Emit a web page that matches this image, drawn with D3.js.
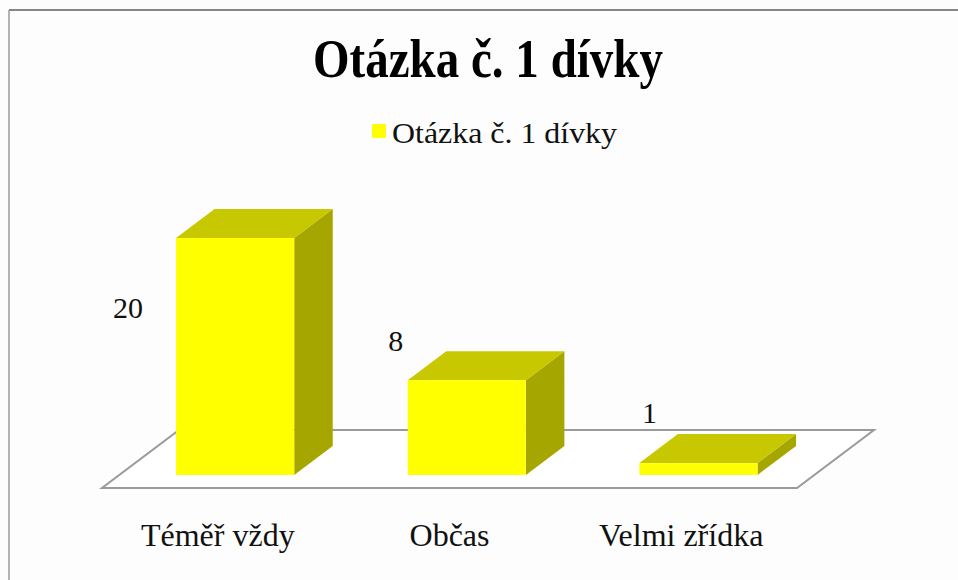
<!DOCTYPE html>
<html>
<head>
<meta charset="utf-8">
<script src="https://cdn.jsdelivr.net/npm/d3@7"></script>
<style>
  html, body { margin: 0; padding: 0; background: #fdfdfd; }
  svg { display: block; font-family: "Liberation Serif", "Times New Roman", serif; }
</style>
</head>
<body>
<div id="chart-wrap"></div>
<script>
const categories = ['Téměř vždy', 'Občas', 'Velmi zřídka'];
const values = [20, 8, 1];
const seriesName = 'Otázka č. 1 dívky';
const chartTitle = 'Otázka č. 1 dívky';

const width = 958;
const height = 580;

// 3D look: floor depth vector and where the bars sit inside it
const floorDepth = [77, -58];
const barFront = 0.225;
const barBack = 0.725;
const floorY = 488;

// value label nudges (px) from bar front top-left
const labelNudge = [[-48, 80], [-12, -29], [10, -40]];

const colors = { front: '#ffff00', top: '#c8c800', side: '#a6a600', floor: '#9a9a9a' };

const svg = d3.select('#chart-wrap').append('svg')
  .attr('width', width)
  .attr('height', height);

// frame (only top + left visible)
svg.append('line')
  .attr('x1', 9).attr('x2', width).attr('y1', 10).attr('y2', 10)
  .attr('stroke', '#858585').attr('stroke-width', 2);
svg.append('line')
  .attr('x1', 9).attr('x2', 9).attr('y1', 10).attr('y2', height)
  .attr('stroke', '#9a9a9a').attr('stroke-width', 1.5);

// title
svg.append('text')
  .attr('x', 488).attr('y', 77)
  .attr('text-anchor', 'middle')
  .attr('font-size', 54)
  .attr('font-weight', 'bold')
  .attr('textLength', 350)
  .attr('lengthAdjust', 'spacingAndGlyphs')
  .text(chartTitle);

// legend
const legend = svg.append('g');
legend.append('rect')
  .attr('x', 372).attr('y', 124).attr('width', 14).attr('height', 14)
  .attr('fill', colors.front);
legend.append('text')
  .attr('x', 392).attr('y', 143)
  .attr('font-size', 30)
  .attr('textLength', 225)
  .attr('lengthAdjust', 'spacingAndGlyphs')
  .attr('fill', '#111')
  .text(seriesName);

// scales
const x = d3.scaleBand()
  .domain(categories)
  .range([102, 797])
  .paddingInner(0.49)
  .paddingOuter(0.245);

const y = d3.scaleLinear()
  .domain([0, 20])
  .range([0, 237]);

const depth = (t) => [floorDepth[0] * t, floorDepth[1] * t];

// floor
const [fx0, fx1] = x.range();
const back = depth(1);
svg.append('path')
  .attr('d', d3.line()([
    [fx0, floorY], [fx1, floorY],
    [fx1 + back[0], floorY + back[1]], [fx0 + back[0], floorY + back[1]]
  ]) + 'Z')
  .attr('fill', '#ffffff')
  .attr('stroke', colors.floor)
  .attr('stroke-width', 2);

// bars
const data = categories.map((c, i) => ({ cat: c, value: values[i], i }));
const f = depth(barFront);
const b = depth(barBack);
const dd = [b[0] - f[0], b[1] - f[1]];

const bars = svg.selectAll('.bar')
  .data(data)
  .enter()
  .append('g')
  .attr('class', 'bar');

const geom = (d) => {
  const x0 = x(d.cat) + f[0];
  const x1 = x0 + x.bandwidth();
  const y0 = floorY + f[1];
  const y1 = y0 - y(d.value);
  return { x0, x1, y0, y1 };
};

bars.append('path')
  .attr('fill', colors.side)
  .attr('d', d => {
    const g = geom(d);
    return d3.line()([[g.x1, g.y0], [g.x1, g.y1], [g.x1 + dd[0], g.y1 + dd[1]], [g.x1 + dd[0], g.y0 + dd[1]]]) + 'Z';
  });

bars.append('path')
  .attr('fill', colors.top)
  .attr('d', d => {
    const g = geom(d);
    return d3.line()([[g.x0, g.y1], [g.x1, g.y1], [g.x1 + dd[0], g.y1 + dd[1]], [g.x0 + dd[0], g.y1 + dd[1]]]) + 'Z';
  });

bars.append('rect')
  .attr('fill', colors.front)
  .attr('x', d => geom(d).x0)
  .attr('y', d => geom(d).y1)
  .attr('width', x.bandwidth())
  .attr('height', d => y(d.value));

// value labels
svg.selectAll('.val')
  .data(data)
  .enter()
  .append('text')
  .attr('class', 'val')
  .attr('x', d => geom(d).x0 + labelNudge[d.i][0])
  .attr('y', d => geom(d).y1 + labelNudge[d.i][1])
  .attr('text-anchor', 'middle')
  .attr('font-size', 30)
  .attr('fill', '#111')
  .text(d => d.value);

// category labels
svg.selectAll('.cat')
  .data(categories)
  .enter()
  .append('text')
  .attr('class', 'cat')
  .attr('x', d => x(d) + x.bandwidth() / 2)
  .attr('y', 546)
  .attr('text-anchor', 'middle')
  .attr('font-size', 32)
  .attr('fill', '#111')
  .text(d => d);
</script>
</body>
</html>
